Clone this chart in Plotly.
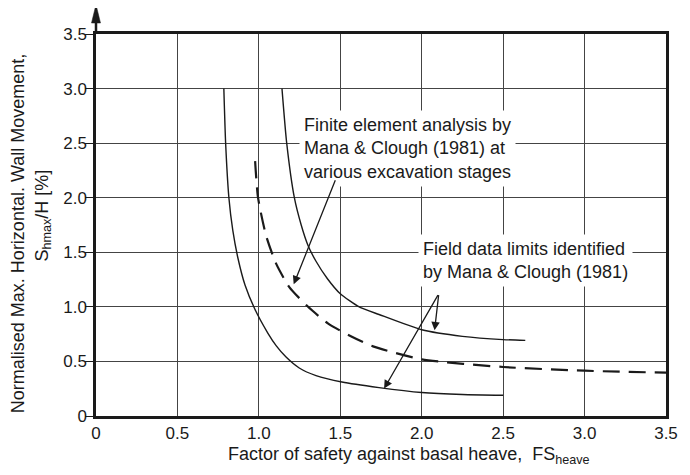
import plotly.graph_objects as go

# field data limits (Mana & Clough 1981) - lower and upper bound
lower_fs = [0.785, 0.796, 0.816, 0.840, 0.871, 0.915, 0.975, 1.055, 1.106, 1.167, 1.248, 1.351, 1.510, 1.738, 2.0, 2.25, 2.5]
lower_s = [3.0, 2.5, 2.0, 1.70, 1.45, 1.20, 0.98, 0.76, 0.645, 0.54, 0.44, 0.37, 0.311, 0.26, 0.215, 0.197, 0.19]

upper_fs = [1.142, 1.171, 1.218, 1.26, 1.30, 1.35, 1.42, 1.5, 1.616, 1.738, 2.0, 2.25, 2.5, 2.636]
upper_s = [3.0, 2.5, 2.0, 1.75, 1.57, 1.42, 1.26, 1.12, 1.0, 0.93, 0.79, 0.73, 0.70, 0.693]

# finite element analysis
fe_fs = [0.977, 0.995, 1.044, 1.106, 1.187, 1.299, 1.426, 1.565, 1.701, 2.0, 2.5, 3.0, 3.5]
fe_s = [2.335, 2.0, 1.655, 1.396, 1.181, 1.005, 0.846, 0.730, 0.638, 0.519, 0.449, 0.415, 0.397]

xticks = [0, 0.5, 1.0, 1.5, 2.0, 2.5, 3.0, 3.5]
xticktext = ["0", "0.5", "1.0", "1.5", "2.0", "2.5", "3.0", "3.5"]
yticks = [0, 0.5, 1.0, 1.5, 2.0, 2.5, 3.0, 3.5]
yticktext = ["0", "0.5", "1.0", "1.5", "2.0", "2.5", "3.0", "3.5"]

FONT = "Liberation Sans, Arial, sans-serif"
INK = "#1a1a1a"

fig = go.Figure()
fig.add_trace(go.Scatter(x=lower_fs, y=lower_s, mode="lines",
                         line=dict(color=INK, width=1.4, shape="spline", smoothing=0.6)))
fig.add_trace(go.Scatter(x=upper_fs, y=upper_s, mode="lines",
                         line=dict(color=INK, width=1.4, shape="spline", smoothing=0.6)))
fig.add_trace(go.Scatter(x=fe_fs, y=fe_s, mode="lines",
                         line=dict(color=INK, width=2.2, dash="17px,9px", shape="spline", smoothing=0.6)))

axis_common = dict(showgrid=True, gridcolor="#444", gridwidth=1,
                   showline=True, linecolor=INK, linewidth=2.5, mirror=True,
                   zeroline=False, tickfont=dict(family=FONT, size=17, color=INK))
fig.update_xaxes(range=[0, 3.5], tickvals=xticks, ticktext=xticktext, ticks="", **axis_common)
fig.update_yaxes(range=[0, 3.5], tickvals=yticks, ticktext=yticktext, ticklabelstandoff=-5,
                 ticks="outside", ticklen=8, tickcolor=INK, tickwidth=1.2, **axis_common)

box = dict(align="left", bgcolor="white", borderpad=4, showarrow=False,
           font=dict(family=FONT, size=18, color=INK), xanchor="left", yanchor="middle")
fig.add_annotation(x=1.245, y=2.449, xref="x", yref="y",
                   text="Finite element analysis by<br>Mana & Clough (1981) at<br>various excavation stages", **box)
fig.add_annotation(x=1.977, y=1.421, xref="x", yref="y",
                   text="Field data limits identified<br>by Mana & Clough (1981)", **box)

arrow = dict(text="", showarrow=True, arrowhead=2, arrowsize=1.3, arrowwidth=1.3,
             arrowcolor=INK, xref="x", yref="y", axref="x", ayref="y")
fig.add_annotation(x=1.214, y=1.206, ax=1.473, ay=2.174, **arrow)
fig.add_annotation(x=2.079, y=0.785, ax=2.105, ay=1.121, **arrow)
fig.add_annotation(x=1.769, y=0.251, ax=2.105, ay=1.121, **arrow)

# y axis arrow above the frame
fig.add_shape(type="line", xref="paper", yref="paper", xsizemode="pixel", ysizemode="pixel",
              xanchor=0, yanchor=1, x0=0, x1=0, y0=0, y1=16, line=dict(color=INK, width=2.5))
fig.add_shape(type="path", xref="paper", yref="paper", xsizemode="pixel", ysizemode="pixel",
              xanchor=0, yanchor=1, path="M-4.5,11 L0,29.5 L4.5,11 Z",
              fillcolor=INK, line=dict(color=INK, width=0.5))

title_font = dict(family=FONT, size=18, color=INK)
fig.add_annotation(x=0.549, y=-0.1028, xref="paper", yref="paper", showarrow=False,
                   text="Factor of safety against basal heave,\u00a0\u00a0FS<sub>heave</sub>",
                   font=title_font, xanchor="center", yanchor="middle")
fig.add_annotation(x=-0.1355, y=0.478, xref="paper", yref="paper", showarrow=False, textangle=-90,
                   text="Normalised Max. Horizontal. Wall Movement,",
                   font=title_font, xanchor="center", yanchor="middle")
fig.add_annotation(x=-0.0927, y=0.525, xref="paper", yref="paper", showarrow=False, textangle=-90,
                   text="S<sub>hmax</sub>/H [%]",
                   font=title_font, xanchor="center", yanchor="middle")

# the page body adds 8px around the figure, so the figure is 8px smaller than the window
fig.update_layout(width=682, height=467, showlegend=False,
                  margin=dict(l=88, r=22, t=25.5, b=59.3),
                  plot_bgcolor="white", paper_bgcolor="white")

fig.write_html("out.html")
